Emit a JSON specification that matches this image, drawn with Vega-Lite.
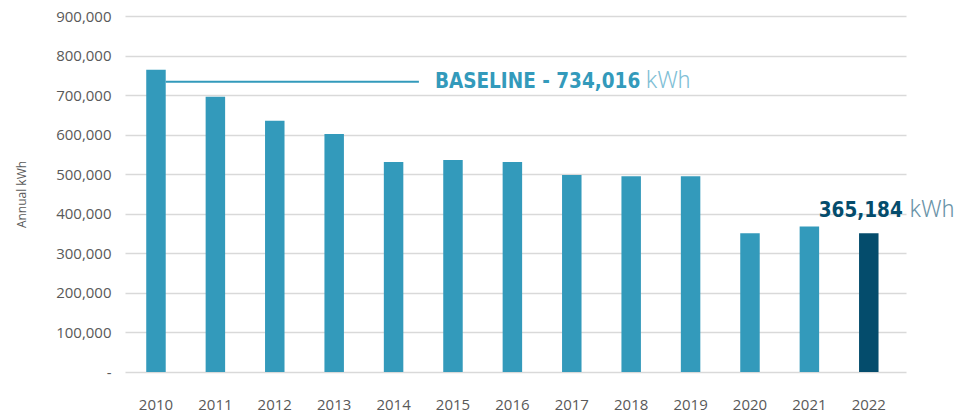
{
  "$schema": "https://vega.github.io/schema/vega-lite/v6.json",
  "width": 781,
  "height": 356,
  "autosize": "none",
  "padding": {"left": 125, "top": 16, "right": 51, "bottom": 45},
  "background": "white",
  "config": {"view": {"stroke": null}, "font": "Open Sans"},
  "datasets": {
    "energy": [
      {"year": "2010", "kwh": 764000},
      {"year": "2011", "kwh": 696000},
      {"year": "2012", "kwh": 635000},
      {"year": "2013", "kwh": 602000},
      {"year": "2014", "kwh": 531000},
      {"year": "2015", "kwh": 536000},
      {"year": "2016", "kwh": 531000},
      {"year": "2017", "kwh": 498000},
      {"year": "2018", "kwh": 495000},
      {"year": "2019", "kwh": 495000},
      {"year": "2020", "kwh": 351000},
      {"year": "2021", "kwh": 368000},
      {"year": "2022", "kwh": 351000}
    ],
    "baseline": [
      {"start": "2010", "end": "2014", "kwh": 734016, "label": "BASELINE - 734,016", "unit": "kWh"}
    ],
    "current": [
      {"year": "2022", "kwh": 365184, "label": "365,184", "unit": "kWh"}
    ]
  },
  "encoding": {
    "y": {
      "field": "kwh",
      "type": "quantitative",
      "scale": {"domain": [0, 900000], "nice": false},
      "axis": {
        "title": "Annual kWh",
        "titleFontSize": 12,
        "titleFontWeight": "normal",
        "titleColor": "#595959",
        "titlePadding": 27,
        "values": [0, 100000, 200000, 300000, 400000, 500000, 600000, 700000, 800000, 900000],
        "labelExpr": "datum.value === 0 ? '-      ' : format(datum.value, ',')",
        "labelOverlap": false,
        "labelFontSize": 15,
        "labelColor": "#595959",
        "labelPadding": 14,
        "ticks": false,
        "domain": false,
        "gridColor": "#d9d9d9",
        "gridWidth": 1.5
      }
    }
  },
  "layer": [
    {
      "data": {"name": "energy"},
      "mark": {"type": "bar"},
      "encoding": {
        "x": {
          "field": "year",
          "type": "nominal",
          "scale": {"paddingInner": 0.672, "paddingOuter": 0.41, "align": 0.436},
          "axis": {
            "title": null,
            "labelAngle": 0,
            "ticks": false,
            "domain": false,
            "grid": false,
            "labelFontSize": 15,
            "labelColor": "#595959",
            "labelPadding": 25
          }
        },
        "color": {
          "condition": {"test": "datum.year === '2022'", "value": "#044c6c"},
          "value": "#339abb"
        }
      }
    },
    {
      "data": {"name": "baseline"},
      "mark": {"type": "rule", "color": "#339abb", "strokeWidth": 2},
      "encoding": {
        "x": {"field": "start", "type": "nominal", "bandPosition": 1},
        "x2": {"field": "end", "bandPosition": 1.8}
      }
    },
    {
      "data": {"name": "baseline"},
      "mark": {"type": "text", "align": "left", "baseline": "alphabetic", "dx": 16, "dy": 6, "font": "DejaVu Sans Condensed, Roboto", "fontWeight": "bold", "fontSize": 20.5, "color": "#339abb"},
      "encoding": {
        "x": {"field": "end", "type": "nominal", "bandPosition": 1.8},
        "text": {"field": "label"}
      }
    },
    {
      "data": {"name": "baseline"},
      "mark": {"type": "text", "align": "left", "baseline": "alphabetic", "dx": 227, "dy": 6, "font": "Roboto", "fontWeight": 300, "fontSize": 23, "color": "#7fc0d6"},
      "encoding": {
        "x": {"field": "end", "type": "nominal", "bandPosition": 1.8},
        "text": {"field": "unit"}
      }
    },
    {
      "data": {"name": "current"},
      "mark": {"type": "text", "align": "right", "baseline": "alphabetic", "dx": 34, "dy": -11, "font": "DejaVu Sans Condensed, Roboto", "fontWeight": "bold", "fontSize": 20.5, "color": "#044c6c"},
      "encoding": {
        "x": {"field": "year", "type": "nominal"},
        "text": {"field": "label"}
      }
    },
    {
      "data": {"name": "current"},
      "mark": {"type": "text", "align": "left", "baseline": "alphabetic", "dx": 41, "dy": -11, "font": "Roboto", "fontWeight": 300, "fontSize": 23, "color": "#6a93a8"},
      "encoding": {
        "x": {"field": "year", "type": "nominal"},
        "text": {"field": "unit"}
      }
    }
  ]
}
